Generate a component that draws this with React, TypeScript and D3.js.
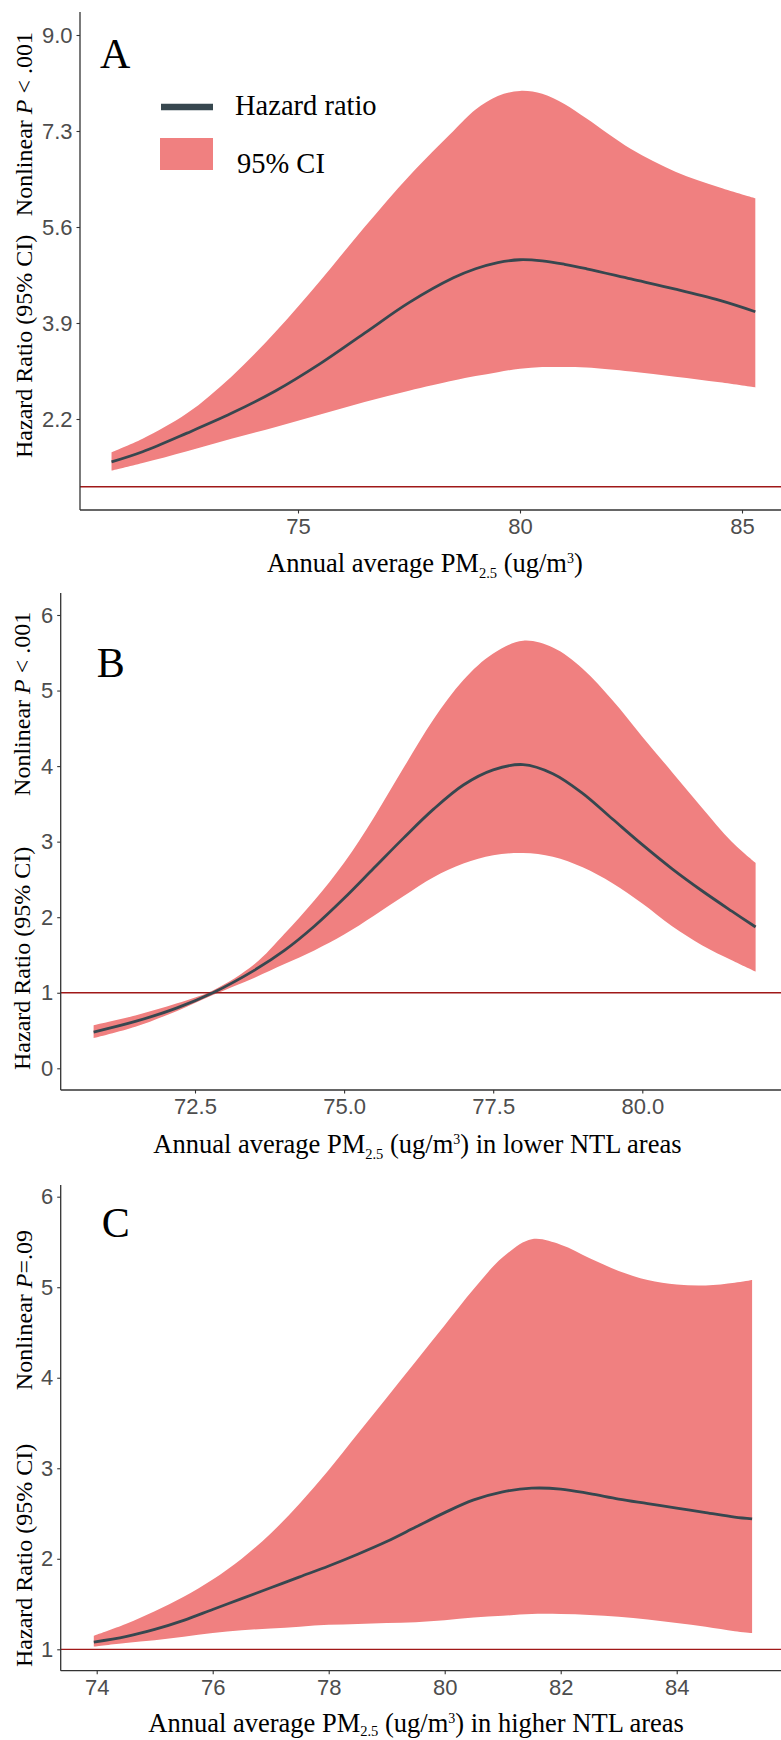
import React, { useEffect, useRef } from "react";
import * as d3 from "d3";

// A: all areas
const pmA = [70.8, 71.5, 72.5, 73.5, 74.5, 75.5, 76.5, 77.5, 78.5, 79.0, 79.5, 80.0, 80.5, 81.0, 81.5, 82.5, 83.5, 84.5, 85.3];
const hrA = [1.44, 1.62, 1.95, 2.3, 2.7, 3.18, 3.72, 4.26, 4.7, 4.86, 4.97, 5.02, 5.0, 4.94, 4.86, 4.68, 4.5, 4.3, 4.1];
const upA = [1.61, 1.85, 2.3, 2.95, 3.75, 4.65, 5.6, 6.5, 7.3, 7.68, 7.92, 8.01, 7.96, 7.78, 7.52, 6.98, 6.58, 6.3, 6.11];
const loA = [1.285, 1.42, 1.63, 1.85, 2.06, 2.28, 2.5, 2.7, 2.88, 2.96, 3.03, 3.09, 3.12, 3.12, 3.11, 3.04, 2.95, 2.85, 2.76];
const yTicksA = [2.2, 3.9, 5.6, 7.3, 9.0];
const xTicksA = [75, 80, 85];

// B: lower NTL areas
const pmB = [70.8, 71.5, 72.2, 72.8, 73.5, 74.0, 74.5, 75.0, 75.5, 76.0, 76.5, 77.0, 77.5, 78.0, 78.5, 79.0, 79.5, 80.0, 80.5, 81.0, 81.5, 81.9];
const hrB = [0.48, 0.62, 0.8, 1.0, 1.3, 1.56, 1.88, 2.25, 2.65, 3.05, 3.43, 3.75, 3.95, 4.02, 3.9, 3.64, 3.3, 2.96, 2.64, 2.35, 2.08, 1.87];
const upB = [0.57, 0.7, 0.86, 1.03, 1.38, 1.78, 2.22, 2.72, 3.32, 3.98, 4.62, 5.14, 5.49, 5.66, 5.57, 5.29, 4.87, 4.39, 3.92, 3.45, 3.0, 2.72];
const loB = [0.4, 0.55, 0.76, 0.97, 1.2, 1.38, 1.56, 1.77, 2.02, 2.28, 2.53, 2.71, 2.82, 2.85, 2.8, 2.66, 2.45, 2.18, 1.88, 1.63, 1.43, 1.28];
const yTicksB = [0, 1, 2, 3, 4, 5, 6];
const xTicksB = [72.5, 75.0, 77.5, 80.0];

// C: higher NTL areas
const pmC = [73.95, 74.5, 75, 75.5, 76, 76.5, 77, 77.5, 78, 78.5, 79, 79.5, 80, 80.5, 81, 81.5, 82, 82.5, 83, 83.5, 84, 84.5, 85, 85.3];
const hrC = [1.08, 1.14, 1.22, 1.32, 1.44, 1.56, 1.68, 1.8, 1.92, 2.05, 2.19, 2.35, 2.51, 2.65, 2.74, 2.78, 2.77, 2.72, 2.66, 2.61, 2.56, 2.51, 2.46, 2.44];
const upC = [1.15, 1.28, 1.42, 1.58, 1.77, 2.0, 2.28, 2.61, 2.98, 3.38, 3.78, 4.18, 4.58, 4.98, 5.33, 5.53, 5.47, 5.32, 5.18, 5.08, 5.03, 5.02, 5.05, 5.08];
const loC = [1.03, 1.07, 1.1, 1.14, 1.18, 1.21, 1.23, 1.25, 1.27, 1.28, 1.29, 1.3, 1.32, 1.35, 1.37, 1.39, 1.39, 1.38, 1.36, 1.33, 1.29, 1.25, 1.2, 1.18];
const yTicksC = [1, 2, 3, 4, 5, 6];
const xTicksC = [74, 76, 78, 80, 82, 84];

const W = 781, H = 1740;
const SERIF = "'Liberation Serif', 'Times New Roman', serif";
const SANS = "'Liberation Sans', Arial, sans-serif";
const RIBBON = "#F08080";
const LINE = "#37474F";

const panels = [
  {
    tag: "A", pm: pmA, hr: hrA, up: upA, lo: loA, yTicks: yTicksA, xTicks: xTicksA, fmtY: d3.format(".1f"), fmtX: d3.format("d"),
    left: 80, top: 12, bottom: 510, xDom: [75, 85], xRng: [298, 742], yDom: [2.2, 9.0], yRng: [419, 35],
    tagPos: [100, 68], yTitleX: 32, hzY: 458, nlY: 32, pText: " < .001",
    xTitle: [267, 572], xSuffix: "", subDy: 6, legend: true,
  },
  {
    tag: "B", pm: pmB, hr: hrB, up: upB, lo: loB, yTicks: yTicksB, xTicks: xTicksB, fmtY: d3.format("d"), fmtX: d3.format(".1f"),
    left: 60.7, top: 593, bottom: 1090, xDom: [72.5, 80], xRng: [195, 642.3], yDom: [0, 6], yRng: [1068.3, 615],
    tagPos: [96.7, 676.7], yTitleX: 30, hzY: 1070, nlY: 611.7, pText: " < .001",
    xTitle: [153.3, 1153.3], xSuffix: " in lower NTL areas", subDy: 6, legend: false,
  },
  {
    tag: "C", pm: pmC, hr: hrC, up: upC, lo: loC, yTicks: yTicksC, xTicks: xTicksC, fmtY: d3.format("d"), fmtX: d3.format("d"),
    left: 60.7, top: 1185, bottom: 1670.7, xDom: [74, 84], xRng: [96.7, 676.7], yDom: [1, 6], yRng: [1649.3, 1196.7],
    tagPos: [101.7, 1236.7], yTitleX: 31.7, hzY: 1667, nlY: 1230, pText: "=.09",
    xTitle: [148.3, 1731.5], xSuffix: " in higher NTL areas", subDy: 4.5, legend: false,
  },
];

export default function App() {
  const ref = useRef<SVGSVGElement>(null);

  useEffect(() => {
    const svg = d3.select(ref.current);
    svg.selectAll("*").remove();

    panels.forEach(p => {
      const x = d3.scaleLinear().domain(p.xDom).range(p.xRng);
      const y = d3.scaleLinear().domain(p.yDom).range(p.yRng);
      const rows = p.pm.map((v, i) => ({ pm: v, hr: p.hr[i], up: p.up[i], lo: p.lo[i] }));
      const g = svg.append("g");

      // ribbon
      const area = d3.area<any>().x(d => x(d.pm)).y0(d => y(d.lo)).y1(d => y(d.up)).curve(d3.curveCatmullRom);
      g.append("path").datum(rows).attr("d", area).attr("fill", RIBBON);

      // reference line HR = 1
      g.append("line").attr("x1", p.left).attr("x2", W).attr("y1", y(1)).attr("y2", y(1))
        .attr("stroke", "#A01818").attr("stroke-width", 1.3);

      // hazard ratio line
      const line = d3.line<any>().x(d => x(d.pm)).y(d => y(d.hr)).curve(d3.curveCatmullRom);
      g.append("path").datum(rows).attr("d", line).attr("fill", "none").attr("stroke", LINE).attr("stroke-width", 2.8);

      // axes
      g.append("line").attr("x1", p.left).attr("x2", p.left).attr("y1", p.top).attr("y2", p.bottom)
        .attr("stroke", "#333").attr("stroke-width", 1.3);
      g.append("line").attr("x1", p.left).attr("x2", W).attr("y1", p.bottom).attr("y2", p.bottom)
        .attr("stroke", "#333").attr("stroke-width", 1.3);

      const yAx = g.append("g").attr("transform", `translate(${p.left},0)`)
        .call(d3.axisLeft(y).tickValues(p.yTicks).tickFormat(p.fmtY as any).tickSize(3.5).tickPadding(4));
      yAx.select(".domain").remove();
      yAx.selectAll("line").attr("stroke", "#333").attr("stroke-width", 1.1);
      yAx.selectAll("text").attr("fill", "#4D4D4D").style("font-family", SANS).style("font-size", "22px");

      const xAx = g.append("g").attr("transform", `translate(0,${p.bottom})`)
        .call(d3.axisBottom(x).tickValues(p.xTicks).tickFormat(p.fmtX as any).tickSize(3.5).tickPadding(5));
      xAx.select(".domain").remove();
      xAx.selectAll("line").attr("stroke", "#333").attr("stroke-width", 1.1);
      xAx.selectAll("text").attr("fill", "#4D4D4D").style("font-family", SANS).style("font-size", "22px");

      // panel tag
      g.append("text").attr("x", p.tagPos[0]).attr("y", p.tagPos[1]).text(p.tag)
        .style("font-family", SERIF).style("font-size", "42px").attr("fill", "#000");

      // y title (two parts)
      g.append("text").attr("transform", `translate(${p.yTitleX},${p.hzY}) rotate(-90)`)
        .attr("text-anchor", "start").style("font-family", SERIF).style("font-size", "24px")
        .text("Hazard Ratio (95% CI)");
      const nl = g.append("text").attr("transform", `translate(${p.yTitleX},${p.nlY}) rotate(-90)`)
        .attr("text-anchor", "end").style("font-family", SERIF).style("font-size", "24px");
      nl.append("tspan").text("Nonlinear ");
      nl.append("tspan").style("font-style", "italic").text("P");
      nl.append("tspan").text(p.pText);

      // x title
      const xt = g.append("text").attr("x", p.xTitle[0]).attr("y", p.xTitle[1])
        .style("font-family", SERIF).style("font-size", "26.5px");
      xt.append("tspan").text("Annual average PM");
      xt.append("tspan").attr("dy", p.subDy).style("font-size", "14.5px").text("2.5");
      xt.append("tspan").attr("dy", -p.subDy).text(" (ug/m");
      xt.append("tspan").attr("dy", -9).style("font-size", "14px").text("3");
      xt.append("tspan").attr("dy", 9).text(")" + p.xSuffix);

      if (p.legend) {
        const lg = g.append("g");
        lg.append("line").attr("x1", 161).attr("x2", 213).attr("y1", 107).attr("y2", 107)
          .attr("stroke", LINE).attr("stroke-width", 6.5);
        lg.append("rect").attr("x", 160).attr("y", 138).attr("width", 53).attr("height", 32).attr("fill", RIBBON);
        lg.append("text").attr("x", 235).attr("y", 115).text("Hazard ratio")
          .style("font-family", SERIF).style("font-size", "28.5px");
        lg.append("text").attr("x", 237).attr("y", 173).text("95% CI")
          .style("font-family", SERIF).style("font-size", "28.5px");
      }
    });
  }, []);

  return (
    <svg ref={ref} width={W} height={H} style={{ position: "absolute", left: 0, top: 0, background: "#fff" }} />
  );
}
